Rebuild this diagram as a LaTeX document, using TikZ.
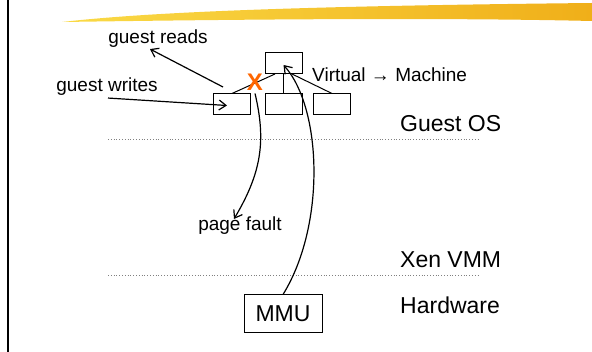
\documentclass[tikz,border=0pt]{standalone}
\usepackage{fontspec}
\setmainfont{Liberation Sans}
\usetikzlibrary{arrows.meta}
\definecolor{brushyel}{RGB}{250,218,70}
\definecolor{brushorg}{RGB}{240,175,25}
\definecolor{xorange}{RGB}{255,102,0}
\tikzset{
  ptbox/.style={draw, line width=1pt, minimum width=37pt, minimum height=21pt, inner sep=0pt},
  lbl/.style={inner sep=0pt, font=\fontsize{19}{22}\selectfont},
  biglbl/.style={inner sep=0pt, anchor=west, font=\fontsize{23}{27}\selectfont},
  arr/.style={line width=1.2pt, -{Straight Barb[length=7pt,width=10pt]}},
  level/.style={dotted, line width=0.8pt, gray}
}

\begin{document}
\begin{tikzpicture}[x=1pt, y=-1pt]
\useasboundingbox (0,0) rectangle (592,352);
% brush stroke and left rule
\shade[left color=brushyel, right color=brushorg] (62,22) .. controls (150,12) and (300,6) .. (592,3) -- (592,21) .. controls (420,17) and (200,20) .. (62,22) -- cycle;
\draw[line width=2.5pt] (8,0) -- (8,352);
% page table tree
\node[ptbox] (top) at (283.5,63) {};
\node[ptbox] (pte1) at (232,104.5) {};
\node[ptbox] (pte2) at (283.5,104.5) {};
\node[ptbox] (pte3) at (332,104.5) {};
\draw[line width=1pt] ([xshift=-8.5pt]top.south) -- (pte1.north);
\draw[line width=1.5pt] (top.south) -- (pte2.north);
\draw[line width=1pt] ([xshift=8.5pt]top.south) -- (pte3.north);
\node[inner sep=0pt, text=xorange, font=\fontsize{24}{26}\selectfont\bfseries] (cross) at (255,82) {X};
% labels
\node[lbl] (reads) at (158,39) {guest reads};
\node[lbl] (writes) at (107,87) {guest writes};
\node[lbl, anchor=west] (virt) at (312,75) {Virtual → Machine};
\node[lbl] (fault) at (240,226) {page fault};
\node[biglbl] (guestos) at (400,124) {Guest OS};
\node[biglbl] (xen) at (400,260) {Xen VMM};
\node[biglbl] (hw) at (400,305) {Hardware};
\draw[level] (108,139) -- (478,139);
\draw[level] (108,275) -- (478,275);
\node[draw, line width=1pt, minimum width=78pt, minimum height=38pt, inner sep=0pt, font=\fontsize{23}{27}\selectfont] (mmu) at (283,314) {MMU};
% accesses
\coordinate (rd) at (223,87);
\draw[arr] (rd) -- ([xshift=-8pt,yshift=-1pt]reads.south);
\draw[arr] ([xshift=1pt,yshift=-2pt]writes.south) -- ([xshift=-5pt,yshift=-1pt]pte1.center);
\draw[arr] ([yshift=-3pt]cross.south) .. controls (266,140) and (262,172) .. ([xshift=-6pt,yshift=-2pt]fault.north);
\draw[arr] (mmu.north) .. controls (326,225) and (322,108) .. ([yshift=-2pt]top.center);
\end{tikzpicture}
\end{document}
